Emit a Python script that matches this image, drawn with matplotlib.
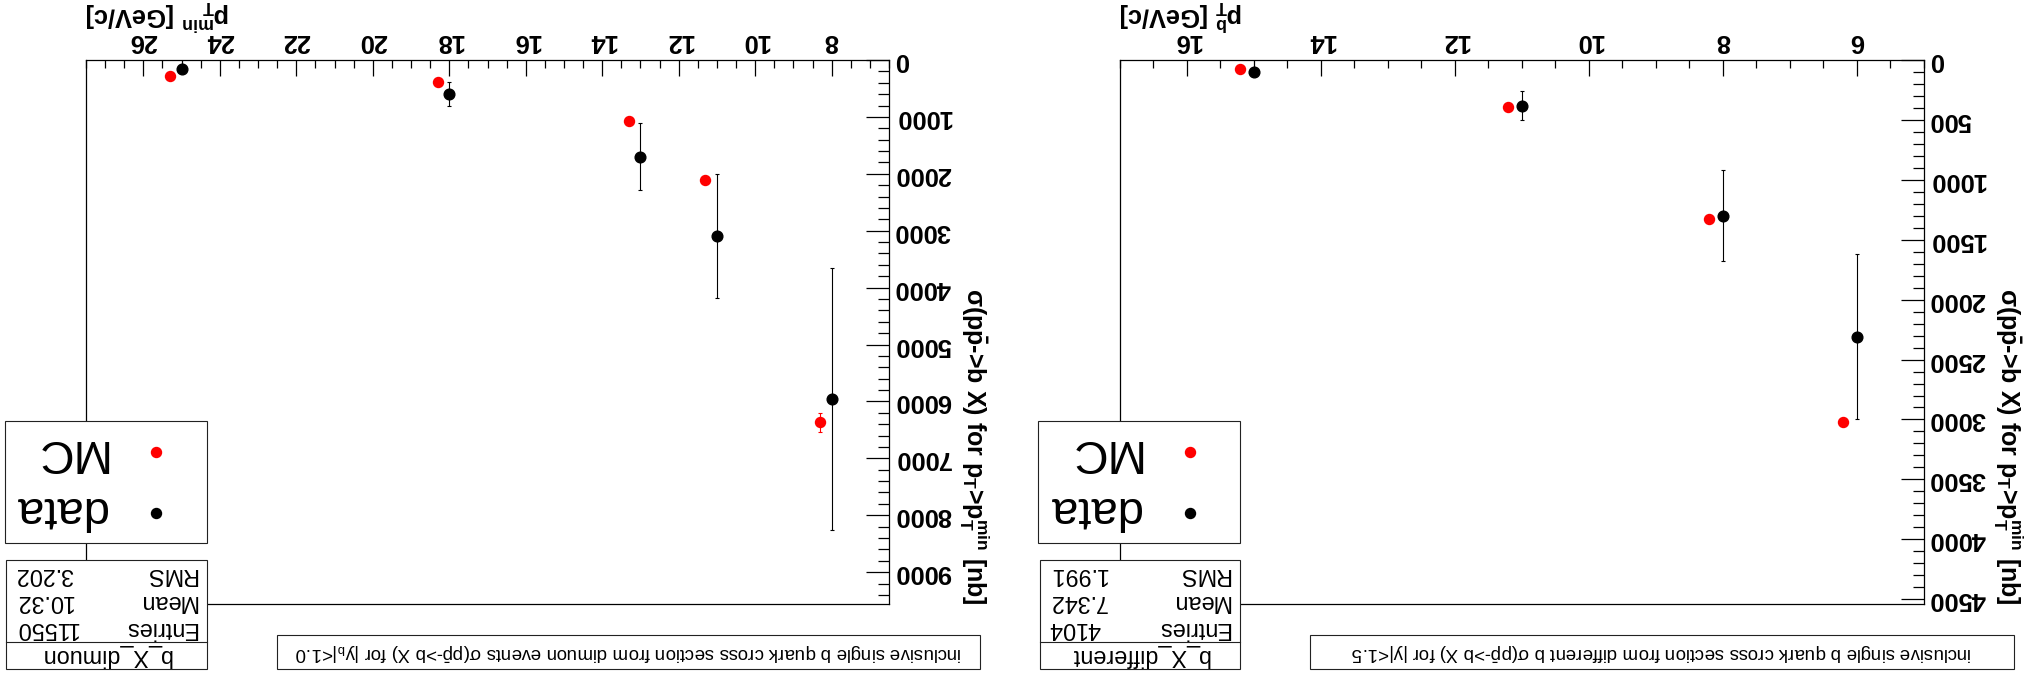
import numpy as np
import matplotlib
matplotlib.use("Agg")
import matplotlib.pyplot as plt
from matplotlib.patches import Rectangle
from matplotlib.lines import Line2D

plt.rcParams["font.family"] = ["Liberation Sans", "DejaVu Sans"]
plt.rcParams["mathtext.fontset"] = "custom"
plt.rcParams["mathtext.rm"] = "Liberation Sans"
plt.rcParams["mathtext.it"] = "Liberation Sans"
plt.rcParams["mathtext.bf"] = "Liberation Sans:bold"
plt.rcParams["mathtext.default"] = "regular"

W, H = 2026, 679

# b_X_dimuon (left panel)
dimuon_pt = [8, 11, 13, 18, 25]
dimuon_data = [5960, 3090, 1700, 600, 160]
dimuon_data_err = [2300, 1085, 590, 215, 30]
dimuon_mc_pt = [8.3, 11.3, 13.3, 18.3, 25.3]
dimuon_mc = [6370, 2110, 1065, 380, 280]
dimuon_mc_err = [165, 50, 35, 25, 15]
dimuon_stats = ["11550", "10.32", "3.202"]

# b_X_different (right panel)
diff_pt = [6, 8, 11, 15]
diff_data = [2310, 1300, 380, 100]
diff_data_err = [690, 378, 121, 20]
diff_mc_pt = [6.2, 8.2, 11.2, 15.2]
diff_mc = [3025, 1325, 390, 78]
diff_mc_err = [30, 20, 12, 8]
diff_stats = ["4104", "7.342", "1.991"]

stat_names = ["Entries", "Mean", "RMS"]
ylab = "σ(p$\\bar{p}$->b X) for $p_{T}$>$p_{T}^{min}$ [nb]"


def fx(x):
    return x / W


def fy(y):
    return 1 - y / H


fig = plt.figure(figsize=(W / 100, H / 100), dpi=100)


def box(x0, y0, x1, y1):
    fig.add_artist(Rectangle((fx(x0), fy(y1)), fx(x1 - x0), (y1 - y0) / H,
                             transform=fig.transFigure, fc="white", ec="#222222", lw=0.8))


def upside(x, y, s, size, ha="left", va="baseline", **kw):
    fig.text(fx(x), fy(y), s, rotation=180, rotation_mode="anchor",
             ha=ha, va=va, fontsize=size, **kw)


def panel(dx, axw, pt, data, data_err, mc_pt, mc, mc_err, xlim, ylim,
          xmajor, ymajor, yminor_step, xlabel, title, name, stats):
    ax = fig.add_axes([fx(86 + dx), fy(604), fx(axw), 544 / H])
    ax.set_xlim(xlim)
    ax.set_ylim(ylim)
    ax.xaxis.tick_top()
    ax.yaxis.tick_right()
    ax.set_xticks(xmajor, [str(v) for v in xmajor], rotation=180,
                  fontsize=18.4, fontweight="bold")
    ax.set_xticks(np.arange(xlim[1], xlim[0] + 0.01, 0.5), minor=True)
    ax.set_yticks(ymajor, [str(v) for v in ymajor], rotation=180,
                  fontsize=18.4, fontweight="bold", va="center")
    ax.set_yticks(np.arange(0, ylim[0], yminor_step), minor=True)
    ax.tick_params(axis="x", which="major", direction="in", length=11.5, width=0.9, pad=4.8)
    ax.tick_params(axis="x", which="minor", direction="in", length=5.8, width=0.9)
    ax.tick_params(axis="y", which="major", direction="in", length=16.6, width=0.9, pad=3.8)
    ax.tick_params(axis="y", which="minor", direction="in", length=8, width=0.9)
    for sp in ax.spines.values():
        sp.set_linewidth(0.9)

    ax.errorbar(pt, data, yerr=data_err, fmt="o", color="black", ms=7.7,
                elinewidth=0.8, capsize=1.3, capthick=0.8)
    ax.errorbar(mc_pt, mc, yerr=mc_err, fmt="o", color="#ff0000", ms=7.2,
                elinewidth=0.8, capsize=1.3, capthick=0.8)

    # axis titles
    fig.text(fx(966 + dx), fy(605), ylab, rotation=270, rotation_mode="anchor",
             ha="right", va="baseline", fontsize=18, fontweight="bold")
    upside(86 + dx, 7, xlabel, 18.3, ha="right", fontweight="bold")

    # legend
    box(4.7 + dx, 420.7, 206.7 + dx, 543.3)
    fig.add_artist(Line2D([fx(156 + dx)], [fy(452)], marker="o", color="#ff0000",
                          ms=7.2, ls="none", transform=fig.transFigure))
    fig.add_artist(Line2D([fx(156 + dx)], [fy(513)], marker="o", color="black",
                          ms=7.2, ls="none", transform=fig.transFigure))
    upside(106 + dx, 440, "MC", 34)
    upside(106 + dx, 496.7, "data", 34)

    # stats box
    box(6 + dx, 560, 206.7 + dx, 669)
    fig.add_artist(Line2D([fx(6 + dx), fx(206.7 + dx)], [fy(642.3), fy(642.3)],
                          color="#222222", lw=0.8, transform=fig.transFigure))
    for i, (lab, val) in enumerate(zip(stat_names, stats)):
        yb = 621.7 - 26.7 * i
        upside(196.7 + dx, yb, lab, 16.8)
        upside(15 + dx, yb, val, 16.8, ha="right")
    fig.text(fx(106.3 + dx), fy(655.7), name, rotation=180, ha="center", va="center", fontsize=16.8)

    # title box
    box(276.7 + dx, 635, 980 + dx, 669)
    fig.text(fx(628.3 + dx), fy(652), title, rotation=180, ha="center", va="center", fontsize=13.4)


panel(0, 803, dimuon_pt, dimuon_data, dimuon_data_err, dimuon_mc_pt, dimuon_mc, dimuon_mc_err,
      (27.5, 6.5), (9560, 0), list(range(8, 27, 2)), list(range(0, 9001, 1000)), 200,
      "$p_{T}^{min}$ [GeV/c]",
      "inclusive single b quark cross section from dimuon events σ(p$\\bar{p}$->b X) for |$y_{b}$|<1.0",
      "b_X_dimuon", dimuon_stats)

panel(1033.7, 804, diff_pt, diff_data, diff_data_err, diff_mc_pt, diff_mc, diff_mc_err,
      (17, 5), (4540, 0), list(range(6, 17, 2)), list(range(0, 4501, 500)), 100,
      "$p_{T}^{b}$ [GeV/c]",
      "inclusive single b quark cross section from different b σ(p$\\bar{p}$->b X) for |y|<1.5",
      "b_X_different", diff_stats)

fig.savefig("out.png", dpi=100)
